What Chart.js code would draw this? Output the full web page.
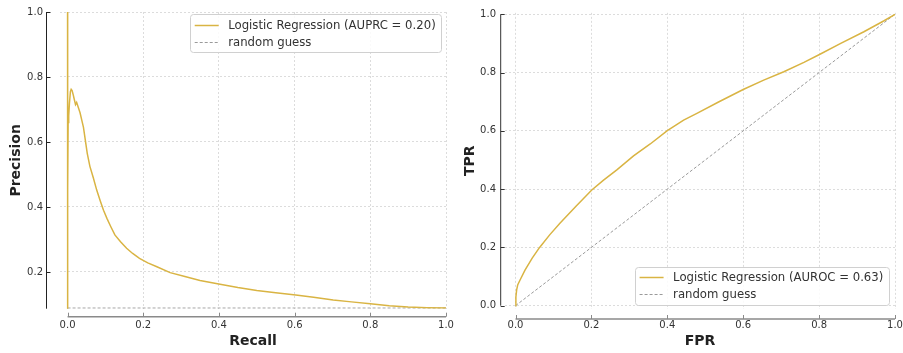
<!DOCTYPE html>
<html>
<head>
<meta charset="utf-8">
<script src="https://cdn.jsdelivr.net/npm/chart.js@4.4.0/dist/chart.umd.min.js"></script>
<style>
  html, body { margin: 0; padding: 0; background: #fff; }
  #wrap { position: relative; width: 903px; height: 353px; }
  canvas { position: absolute; top: 0; }
</style>
</head>
<body>
<div id="wrap">
  <canvas id="prChart" width="460" height="353" style="left:0"></canvas>
  <canvas id="rocChart" width="452" height="353" style="left:451px"></canvas>
</div>
<script>
// Precision-recall curve
const prRecall = [0, 0, 0.0005, 0.0015, 0.003, 0.005, 0.0075, 0.0095, 0.012, 0.015, 0.018, 0.021, 0.024, 0.028,
    0.033, 0.038, 0.042, 0.047, 0.052, 0.059, 0.068, 0.077, 0.086, 0.095, 0.104, 0.114, 0.125, 0.14, 0.156,
    0.172, 0.19, 0.212, 0.236, 0.271, 0.31, 0.35, 0.403, 0.45, 0.5, 0.55, 0.603, 0.65, 0.702, 0.75, 0.8,
    0.85, 0.9, 0.95, 1.0];
const prPrecision = [1.0, 0.0, 0.45, 0.66, 0.68, 0.72, 0.755, 0.762, 0.758, 0.745, 0.73, 0.715, 0.722, 0.708,
    0.69, 0.665, 0.645, 0.605, 0.565, 0.525, 0.49, 0.452, 0.42, 0.39, 0.365, 0.34, 0.314, 0.293, 0.273,
    0.257, 0.242, 0.228, 0.216, 0.198, 0.186, 0.174, 0.162, 0.152, 0.143, 0.136, 0.129, 0.122, 0.114, 0.108, 0.102,
    0.096, 0.092, 0.090, 0.089];
const prRandomRecall = [0, 1];
const prRandomPrecision = [0.089, 0.089];

// ROC curve
const rocFpr = [0, 0.001, 0.003, 0.006, 0.012, 0.025, 0.044, 0.063, 0.09, 0.117, 0.16, 0.201, 0.232, 0.267, 0.311,
    0.355, 0.4, 0.443, 0.478, 0.535, 0.6, 0.654, 0.707, 0.76, 0.801, 0.857, 0.918, 0.97, 1.0];
const rocTpr = [0, 0.03, 0.054, 0.072, 0.088, 0.122, 0.163, 0.199, 0.243, 0.283, 0.342, 0.397, 0.431, 0.466, 0.514,
    0.555, 0.601, 0.637, 0.66, 0.699, 0.742, 0.774, 0.803, 0.835, 0.862, 0.9, 0.94, 0.977, 1.0];
const rocRandomFpr = [0, 1];
const rocRandomTpr = [0, 1];

// ticks and labels
const prTicksX = [0, 0.2, 0.4, 0.6, 0.8, 1.0];
const prTicksY = [0.2, 0.4, 0.6, 0.8, 1.0];
const rocTicksX = [0, 0.2, 0.4, 0.6, 0.8, 1.0];
const rocTicksY = [0, 0.2, 0.4, 0.6, 0.8, 1.0];
const prLabels = ['Logistic Regression (AUPRC = 0.20)', 'random guess'];
const rocLabels = ['Logistic Regression (AUROC = 0.63)', 'random guess'];

const FONT = "'DejaVu Sans', sans-serif";
const GOLD = '#d9b443';
const GREY = '#9a9a9a';

const toPoints = (xs, ys) => xs.map((x, i) => ({ x: x, y: ys[i] }));

// offset spines with inward ticks, matplotlib style
const spinesPlugin = {
    id: 'spines',
    afterDraw(chart, args, opts) {
        const { ctx, chartArea } = chart;
        const x = chart.scales.x, y = chart.scales.y;
        ctx.save();
        const sx = chartArea.left + opts.yOffset;
        const yTop = opts.yTrim ? y.getPixelForValue(opts.yTrim[1]) : chartArea.top;
        const yBot = opts.yTrim ? y.getPixelForValue(opts.yTrim[0]) : chartArea.bottom;
        ctx.strokeStyle = opts.yColor;
        ctx.lineWidth = 1;
        ctx.beginPath();
        ctx.moveTo(sx, yTop);
        ctx.lineTo(sx, yBot);
        y.ticks.forEach(t => {
            const py = Math.round(y.getPixelForValue(t.value)) + 0.5;
            ctx.moveTo(sx, py);
            ctx.lineTo(sx + 4, py);
        });
        ctx.stroke();

        const sy = chartArea.bottom + opts.xOffset;
        ctx.strokeStyle = opts.xColor;
        ctx.lineWidth = 1.6;
        ctx.beginPath();
        ctx.moveTo(x.getPixelForValue(opts.xTrim[0]), sy);
        ctx.lineTo(x.getPixelForValue(opts.xTrim[1]), sy);
        ctx.stroke();
        ctx.lineWidth = 1;
        ctx.beginPath();
        x.ticks.forEach(t => {
            const px = Math.round(x.getPixelForValue(t.value)) + 0.5;
            ctx.moveTo(px, sy);
            ctx.lineTo(px, sy - 4);
        });
        ctx.stroke();
        ctx.restore();
    }
};

// framed legend inside the plot area
const boxLegendPlugin = {
    id: 'boxLegend',
    afterDraw(chart, args, opts) {
        const { ctx, chartArea } = chart;
        const sets = chart.data.datasets;
        ctx.save();
        ctx.font = '11.7px ' + FONT;
        const textW = Math.max(...sets.map(d => ctx.measureText(d.label).width));
        const rowH = 17, pad = 2;
        const w = 38.5 + textW + 5;
        const h = rowH * sets.length + pad * 2;
        const left = chartArea.right - opts.right - w;
        const top = opts.top != null ? chartArea.top + opts.top : chartArea.bottom - opts.bottom - h;
        ctx.beginPath();
        ctx.roundRect(Math.round(left) + 0.5, Math.round(top) + 0.5, Math.round(w), Math.round(h), 3);
        ctx.fillStyle = 'rgba(255,255,255,0.85)';
        ctx.fill();
        ctx.strokeStyle = '#d0d0d0';
        ctx.lineWidth = 1;
        ctx.stroke();
        sets.forEach((d, i) => {
            const cy = Math.round(top + pad + rowH * (i + 0.5)) + 0.5;
            ctx.beginPath();
            ctx.strokeStyle = d.borderColor;
            ctx.lineWidth = d.borderWidth;
            ctx.setLineDash(d.borderDash || []);
            ctx.moveTo(left + 5, cy);
            ctx.lineTo(left + 29, cy);
            ctx.stroke();
            ctx.setLineDash([]);
            ctx.fillStyle = '#333';
            ctx.textBaseline = 'middle';
            ctx.fillText(d.label, left + 38.5, cy);
        });
        ctx.restore();
    }
};

function buildChart(canvasId, cfg) {
    const tickFont = { family: FONT, size: 10 };
    const titleFont = { family: FONT, size: 14, weight: 'bold' };
    const grid = { color: '#dcdcdc', lineWidth: 1, drawTicks: false };
    const border = { display: false, dash: [2, 2] };

    return new Chart(document.getElementById(canvasId), {
        type: 'scatter',
        data: {
            datasets: [
                { label: cfg.labels[0], data: toPoints(cfg.xs, cfg.ys), showLine: true, borderColor: GOLD,
                  borderWidth: 1.5, pointRadius: 0, tension: 0 },
                { label: cfg.labels[1], data: toPoints(cfg.rx, cfg.ry), showLine: true, borderColor: GREY,
                  borderWidth: 1, borderDash: [3, 2], pointRadius: 0 }
            ]
        },
        options: {
            responsive: false,
            animation: false,
            devicePixelRatio: 1,
            layout: { padding: { top: cfg.padTop, right: cfg.padRight, left: 0, bottom: 0 } },
            plugins: {
                legend: { display: false },
                tooltip: { enabled: false },
                spines: cfg.spines,
                boxLegend: cfg.legend
            },
            scales: {
                x: {
                    type: 'linear', min: cfg.xMin, max: cfg.xMax,
                    afterBuildTicks: s => { s.ticks = cfg.xTicks.map(v => ({ value: v })); },
                    afterFit: s => { s.height = cfg.xHeight; s.paddingLeft = 0; s.paddingRight = 0; },
                    grid: grid, border: border,
                    ticks: { padding: 11, font: tickFont, color: '#333', maxRotation: 0, callback: v => v.toFixed(1) },
                    title: { display: true, text: cfg.xTitle, font: titleFont, color: '#222', padding: { top: 0, bottom: 3.6 } }
                },
                y: {
                    type: 'linear', min: cfg.yMin, max: cfg.yMax,
                    afterBuildTicks: s => { s.ticks = cfg.yTicks.map(v => ({ value: v })); },
                    afterFit: s => { s.width = cfg.yWidth; s.paddingTop = 0; s.paddingBottom = 0; },
                    grid: grid, border: border,
                    ticks: { padding: cfg.yTickPad, font: tickFont, color: '#333', callback: v => v.toFixed(1) },
                    title: { display: true, text: cfg.yTitle, font: titleFont, color: '#222', padding: { top: cfg.yTitlePad, bottom: 0 } }
                }
            }
        },
        plugins: [spinesPlugin, boxLegendPlugin]
    });
}

buildChart('prChart', {
    xs: prRecall, ys: prPrecision, rx: prRandomRecall, ry: prRandomPrecision, labels: prLabels,
    xTicks: prTicksX, yTicks: prTicksY, xMin: -0.02, xMax: 1.0, yMin: 0.087, yMax: 1.0,
    xTitle: 'Recall', yTitle: 'Precision',
    padTop: 12, padRight: 14, xHeight: 44.3, yWidth: 60, yTickPad: 17, yTitlePad: 7.6,
    spines: { yOffset: -13.5, xOffset: 8, yColor: '#222', xColor: '#8a8a8a', xTrim: [0, 1] },
    legend: { right: 5.3, top: 2 }
});

buildChart('rocChart', {
    xs: rocFpr, ys: rocTpr, rx: rocRandomFpr, ry: rocRandomTpr, labels: rocLabels,
    xTicks: rocTicksX, yTicks: rocTicksY, xMin: -0.0277, xMax: 1.0, yMin: -0.01, yMax: 1.005,
    xTitle: 'FPR', yTitle: 'TPR',
    padTop: 12.84, padRight: 8, xHeight: 44.4, yWidth: 54, yTickPad: 9, yTitlePad: 11.1,
    spines: { yOffset: -4.3, xOffset: 10.4, yColor: '#333', xColor: '#8a8a8a', xTrim: [0, 1], yTrim: [0, 1] },
    legend: { right: 6.7, bottom: 3.6 }
});
</script>
</body>
</html>
